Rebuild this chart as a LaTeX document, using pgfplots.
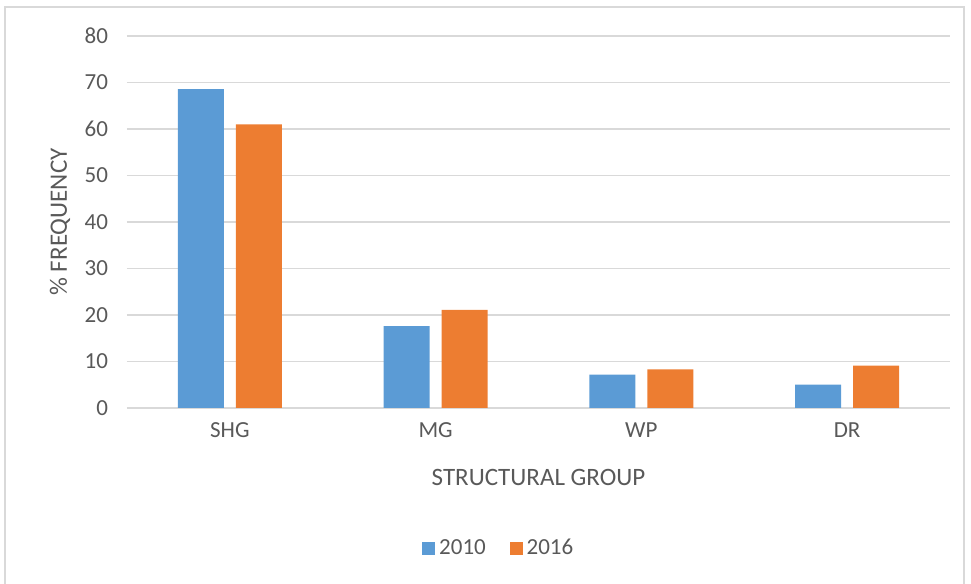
\documentclass[border=0pt]{standalone}
\usepackage{fontspec}
\setmainfont{Carlito}
\usepackage{pgfplots}
\pgfplotsset{compat=1.18}
\definecolor{c2010}{HTML}{5B9BD5}
\definecolor{c2016}{HTML}{ED7D31}
\definecolor{txt}{HTML}{595959}
\definecolor{grd}{HTML}{D9D9D9}

\begin{document}
\begin{tikzpicture}
\useasboundingbox (-63.5pt,-87.75pt) rectangle (422pt,204pt);
\draw[grd, line width=0.6pt] (-61pt,-95pt) -- (-61pt,200.5pt) -- (418.5pt,200.5pt) -- (418.5pt,-95pt);
\begin{axis}[
    at={(0,0)}, anchor=south west,
    scale only axis,
    width=411.5pt, height=186pt,
    ybar=6pt,
    bar width=23pt,
    xmin=-0.5, xmax=3.5,
    ymin=0, ymax=80,
    xtick=data,
    xticklabels={SHG, MG, WP, DR},
    ytick={0,10,...,80},
    axis lines*=left,
    x axis line style={grd, line width=0.75pt},
    y axis line style={draw=none},
    major tick length=0pt,
    ymajorgrids=true,
    grid style={grd, line width=0.75pt},
    /pgf/number format/assume math mode=true,
    tick label style={font=\fontsize{11.5}{13}\selectfont, text=txt},
    yticklabel style={xshift=-6pt},
    xticklabel style={yshift=-4pt},
    label style={font=\fontsize{12.5}{14}\selectfont, text=txt},
    xlabel={STRUCTURAL GROUP},
    ylabel={\% FREQUENCY},
    xlabel style={at={(axis description cs:0.5,-0.187)}, anchor=center},
    ylabel style={at={(axis description cs:-0.0814,0.5)}, anchor=center},
    legend style={at={(axis description cs:0.453,-0.378)}, anchor=center,
        draw=none, fill=none, font=\fontsize{11.5}{13}\selectfont, text=txt,
        legend columns=2, /tikz/every even column/.append style={column sep=10pt}},
    legend image code/.code={\fill[#1] (0pt,-3.2pt) rectangle (6.4pt,3.2pt);},
]
\addplot[fill=c2010, draw=none] coordinates {(0,68.6) (1,17.6) (2,7.2) (3,5.0)};
\addplot[fill=c2016, draw=none] coordinates {(0,61.0) (1,21.1) (2,8.3) (3,9.1)};
\legend{2010, 2016}
\end{axis}
\end{tikzpicture}
\end{document}
